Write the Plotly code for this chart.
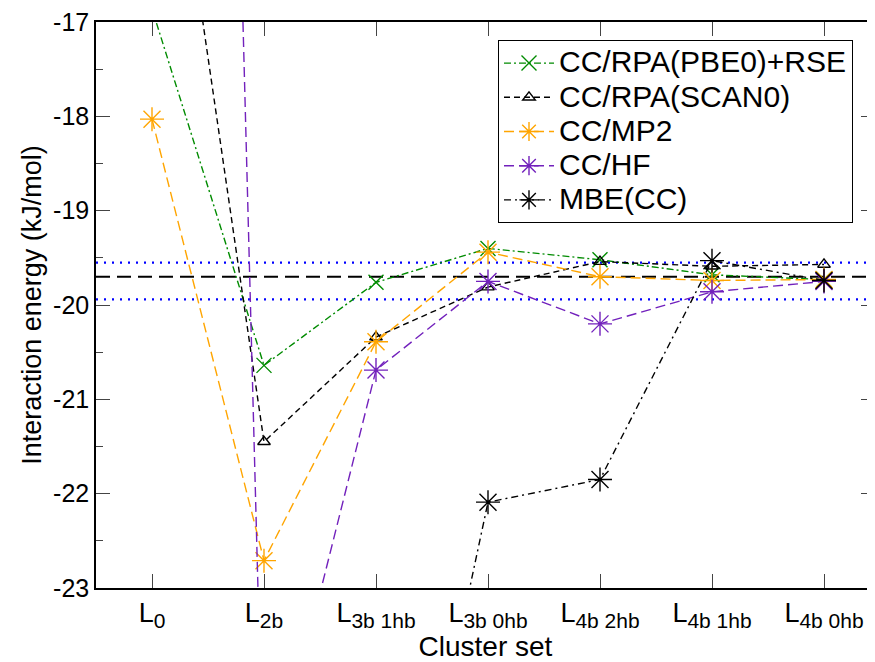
import plotly.graph_objects as go

# ---------------- data ----------------
categories = ["L0", "L2b", "L3b 1hb", "L3b 0hb", "L4b 2hb", "L4b 1hb", "L4b 0hb"]
tick_labels = ["0", "2b", "3b 1hb", "3b 0hb", "4b 2hb", "4b 1hb", "4b 0hb"]

rpa_pbe0_rse = [-16.86, -20.64, -19.76, -19.40, -19.52, -19.68, -19.73]
rpa_scan0 = [-13.30, -21.45, -20.34, -19.81, -19.54, -19.59, -19.57]
cc_mp2 = [-18.03, -22.71, -20.39, -19.44, -19.70, -19.74, -19.73]
cc_hf = [19.4, -25.42, -20.69, -19.75, -20.20, -19.86, -19.75]
mbe_cc = [None, None, -27.66, -22.09, -21.85, -19.53, -19.74]

reference_value = [-19.70]
reference_band = [-19.55, -19.94]

y_ticks = [-23, -22, -21, -20, -19, -18, -17]

# ---------------- figure ----------------
xpos = list(range(len(categories)))
font_family = "Liberation Sans, Arial, sans-serif"

GREEN = "rgb(0,139,0)"
ORANGE = "rgb(255,165,0)"
INDIGO = "rgb(114,33,188)"

# the page body has an 8px default margin: compensate so the plot lands in place
PAGE_OFFSET = 8
FIG_W, FIG_H = 875 - PAGE_OFFSET, 662 - PAGE_OFFSET
PLOT_L, PLOT_T, PLOT_B = 96 - PAGE_OFFSET, 22 - PAGE_OFFSET, 588 - PAGE_OFFSET
PLOT_W = FIG_W - PLOT_L
PLOT_H = PLOT_B - PLOT_T

fig = go.Figure()

series = [
    ("CC/RPA(PBE0)+RSE", rpa_pbe0_rse, GREEN, "x-thin-open", 15, "7px,3px,2px,3px"),
    ("CC/RPA(SCAN0)", rpa_scan0, "black", "triangle-up-open", 11, "6px,4px"),
    ("CC/MP2", cc_mp2, ORANGE, "asterisk-open", 20, "10px,5px"),
    ("CC/HF", cc_hf, INDIGO, "asterisk-open", 20, "10px,5px"),
    ("MBE(CC)", mbe_cc, "black", "asterisk-open", 20, "7px,4px,2px,4px"),
]

for name, vals, color, sym, size, dash in series:
    fig.add_trace(go.Scatter(
        x=xpos, y=vals, name=f"<span style='font-size:30px'>{name}</span>",
        mode="lines+markers",
        line=dict(color=color, width=1.4, dash=dash),
        marker=dict(symbol=sym, size=size, color=color,
                    line=dict(color=color, width=1.4)),
        connectgaps=False,
    ))

# reference lines
for v in reference_value:
    fig.add_shape(type="line", xref="paper", x0=0, x1=1, yref="y", y0=v, y1=v,
                  line=dict(color="black", width=2, dash="14px,7px"), layer="below")
for v in reference_band:
    fig.add_shape(type="line", xref="paper", x0=0, x1=1, yref="y", y0=v, y1=v,
                  line=dict(color="blue", width=2.2, dash="2px,6px"), layer="below")

ticktext = [f"L<sub><span style='font-size:21px'>{t}</span></sub>" for t in tick_labels]

fig.update_layout(
    width=FIG_W, height=FIG_H,
    margin=dict(l=PLOT_L, r=0, t=PLOT_T, b=FIG_H - PLOT_B),
    paper_bgcolor="white", plot_bgcolor="white",
    font=dict(family=font_family, color="black"),
    showlegend=True,
    legend=dict(
        x=(498 - 96) / PLOT_W, y=(588 - 40) / PLOT_H, xanchor="left", yanchor="top",
        bgcolor="white", bordercolor="black", borderwidth=1,
        font=dict(size=24, family=font_family),
        itemwidth=50,
    ),
    xaxis=dict(
        range=[-0.5, -0.5 + PLOT_W / 112], tickmode="array", tickvals=xpos, ticktext=ticktext,
        ticks="inside", ticklen=14, tickcolor="#444", tickwidth=1.2,
        showline=True, linecolor="black", linewidth=1.5, mirror="ticks",
        showgrid=False, zeroline=False, automargin=False, ticklabeloverflow="allow",
        tickfont=dict(size=27, family=font_family),
        title=dict(text="Cluster set", font=dict(size=28, family=font_family), standoff=2),
    ),
    yaxis=dict(
        range=[-23, -17], tickmode="array", tickvals=y_ticks,
        ticktext=[f"-{abs(t)}" for t in y_ticks],
        ticks="inside", ticklen=14, tickcolor="#444", tickwidth=1.2,
        minor=dict(dtick=0.5, ticks="inside", ticklen=7, tickcolor="#444", tickwidth=1.2),
        showline=True, linecolor="black", linewidth=1.5, mirror="ticks",
        showgrid=False, zeroline=False, automargin=False, ticklabeloverflow="allow",
        tickfont=dict(size=25, family=font_family),
        title=dict(text="Interaction energy (kJ/mol)", font=dict(size=27, family=font_family), standoff=4),
    ),
)

fig.write_html("out.html")
